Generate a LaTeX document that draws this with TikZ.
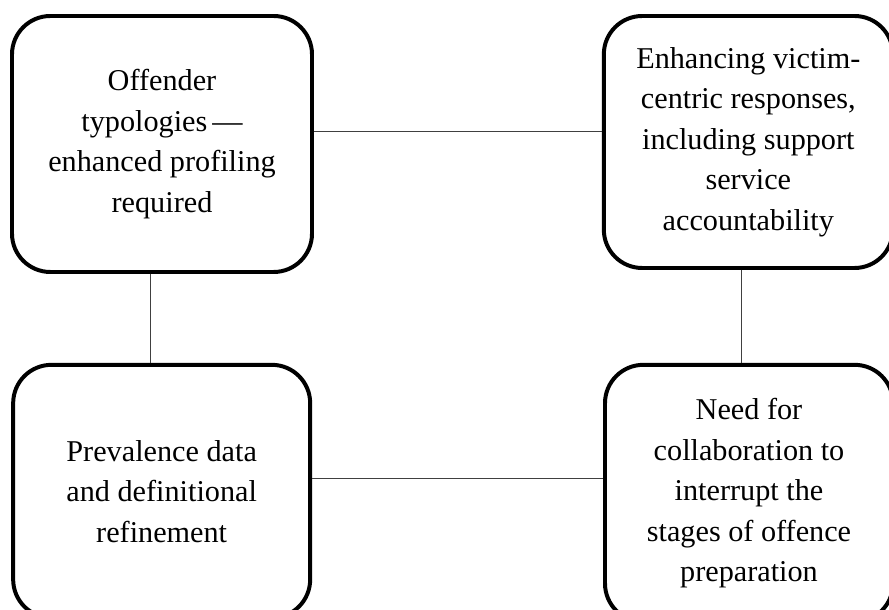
\documentclass[tikz,border=0pt]{standalone}
\usepackage{fontspec}
\setmainfont{Liberation Serif}
\usetikzlibrary{positioning,calc}
\newcommand{\boxtext}[1]{\fontsize{25.8}{34.5}\selectfont #1}

\begin{document}
\begin{tikzpicture}
[block/.style={draw=black,line width=3.4pt,rounded corners=1.15cm,fill=white,
    align=center,inner sep=0pt,font=\boxtext},
edge/.style={black!75,line width=.8pt}]
%%%%%%%%%%
%% canvas
\useasboundingbox (0,0) rectangle (26.67,18.3);
\clip (0,0) rectangle (26.67,18.3);
%%
\node (prof) [block,minimum width=9cm,minimum height=7.68cm] at (4.86,13.98)
{Offender\\typologies\,---\\enhanced profiling\\required};
\node (vict) [block,minimum width=8.67cm,minimum height=7.56cm] at (22.45,14.04)
{Enhancing victim-\\centric responses,\\including support\\service\\accountability};
\node (prev) [block,minimum width=8.91cm,minimum height=7.59cm] at (4.85,3.56)
{Prevalence data\\and definitional\\refinement};
\node (coll) [block,minimum width=8.64cm,minimum height=7.71cm] at (22.47,3.50)
{Need for\\collaboration to\\interrupt the\\stages of offence\\preparation};
%%
\draw[edge] ([yshift=.39cm]prof.east) -- ([yshift=.39cm]prof.east -| vict.west);
\draw[edge] ([xshift=-.35cm]prof.south) -- ([xshift=-.35cm]prof.south |- prev.north);
\draw[edge] ([xshift=-.22cm]vict.south) -- ([xshift=-.22cm]vict.south |- coll.north);
\draw[edge] ([yshift=.4cm]prev.east) -- ([yshift=.4cm]prev.east -| coll.west);
\end{tikzpicture}
\end{document}
